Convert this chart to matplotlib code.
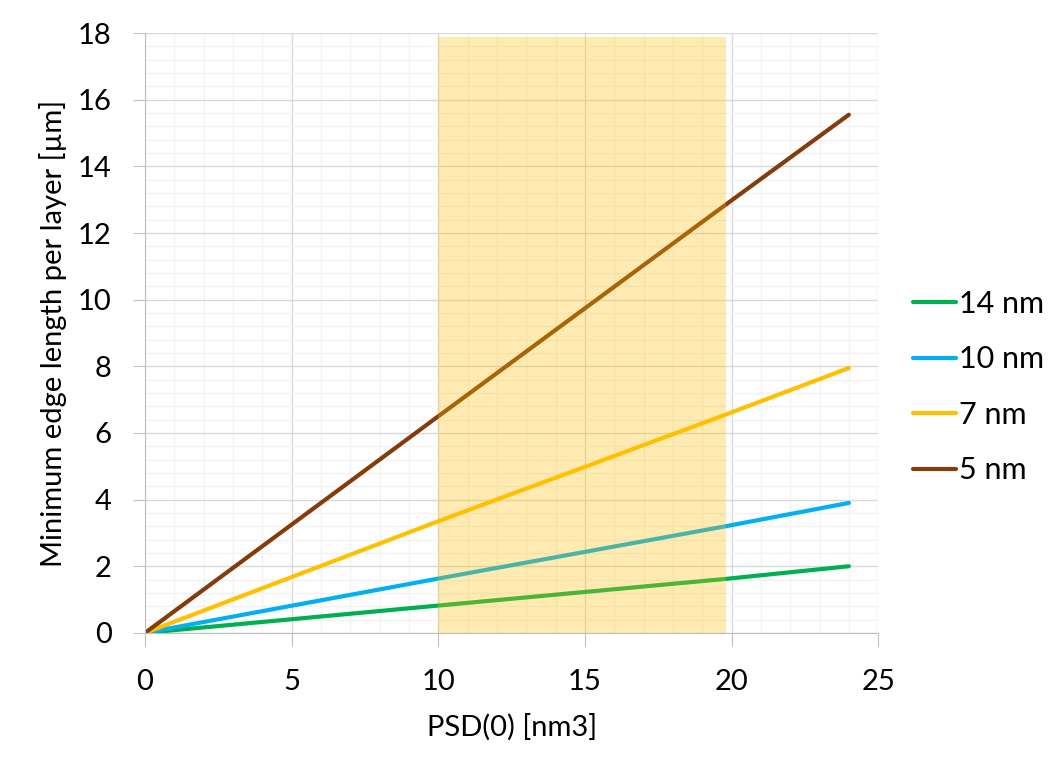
import numpy as np
from matplotlib import pyplot as plt
from matplotlib.ticker import MultipleLocator

plt.rcParams['font.family'] = ['Lato', 'DejaVu Sans']

# data
psd = [0, 10, 19.8, 24]
len_14nm = [0, 0.82, 1.62, 2.0]
len_10nm = [0, 1.63, 3.2, 3.9]
len_7nm = [0, 3.35, 6.55, 7.95]
len_5nm = [0, 6.5, 12.85, 15.55]
band_x = [10, 19.8]
band_top = 17.88

fig = plt.figure(figsize=(10.53, 7.69), dpi=100)
ax = fig.add_axes([0.1377, 0.177, 0.6963, 0.78])

ax.plot(psd, len_14nm, c="#00B050", lw=3, label="14 nm", solid_capstyle="round")
ax.plot(psd, len_10nm, c="#00B0F0", lw=3, label="10 nm", solid_capstyle="round")
ax.plot(psd, len_7nm, c="#FFC000", lw=3, label="7 nm", solid_capstyle="round")
ax.plot(psd, len_5nm, c="#843C0C", lw=3, label="5 nm", solid_capstyle="round")

ax.fill_between(band_x, 0, band_top, color="#FFC000", alpha=0.3, lw=0, zorder=3)

ax.set_xlim(0, 25)
ax.set_ylim(0, 18)
ax.xaxis.set_major_locator(MultipleLocator(5))
ax.xaxis.set_minor_locator(MultipleLocator(1))
ax.yaxis.set_major_locator(MultipleLocator(2))
ax.yaxis.set_minor_locator(MultipleLocator(0.4))
ax.grid(which="major", color="#D9D9D9", lw=1)
ax.grid(which="minor", color="#F2F2F2", lw=1)
ax.set_axisbelow(True)
for s in ["top", "right"]:
    ax.spines[s].set_visible(False)
for s in ["left", "bottom"]:
    ax.spines[s].set_color("#BFBFBF")
ax.tick_params(which="major", colors="#BFBFBF", labelcolor="black", labelsize=21, length=9)
ax.tick_params(axis="x", which="major", pad=17)
ax.tick_params(axis="y", which="major", pad=15)
ax.tick_params(which="minor", length=0)

ax.set_xlabel("PSD(0) [nm3]", fontsize=21, labelpad=13)
ax.set_ylabel("Minimum edge length per layer [µm]", fontsize=21, labelpad=8)

ax.legend(loc="center left", bbox_to_anchor=(1.01, 0.41), frameon=False, fontsize=22,
          handlelength=1.4, handletextpad=0.1, labelspacing=0.9)

plt.savefig("out.png", dpi=100)
